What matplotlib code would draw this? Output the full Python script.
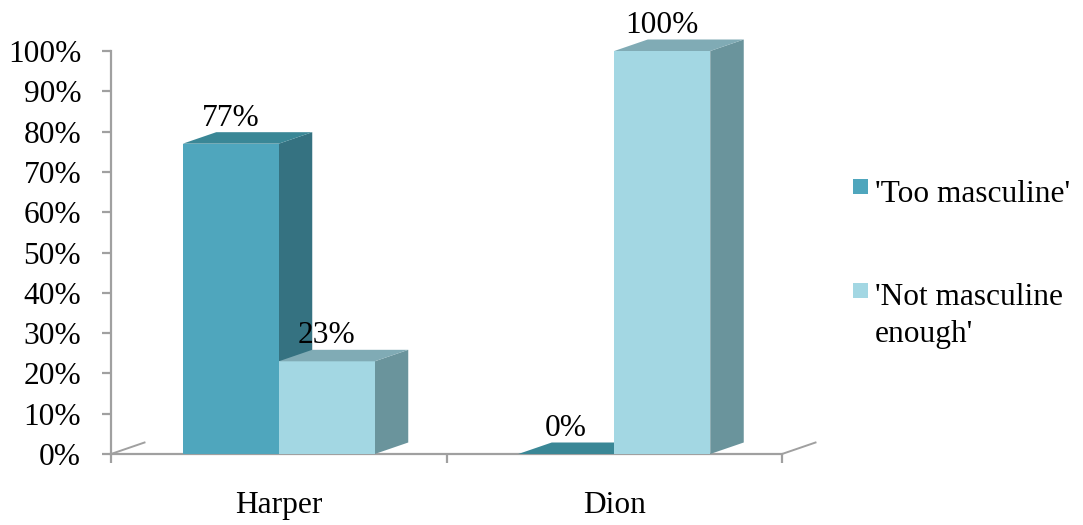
import matplotlib
matplotlib.use('Agg')
import matplotlib.pyplot as plt
import matplotlib.patches as mpatches

categories = ['Harper', 'Dion']
series_names = ["'Too masculine'", "'Not masculine enough'"]
too_masculine = [77, 0]
not_enough = [23, 100]
yticks = list(range(0, 101, 10))

# front / top / side shades for each series
SHADES = [
    {'front': '#4fa6bd', 'top': '#3a8796', 'side': '#357281'},
    {'front': '#a3d7e3', 'top': '#80abb5', 'side': '#6a949c'},
]
AXIS_GRAY = '#a0a0a0'
FONT = 'Liberation Serif'
FS = 22.6

W, H = 1083, 525
fig = plt.figure(figsize=(W / 100, H / 100), dpi=100)

# axes box in pixels: x 111..782, y 51..454
ax = fig.add_axes([111 / W, (H - 454) / H, 671 / W, 403 / H])
ax.set_xlim(0, 2)
ax.set_ylim(0, 100)
for s in ax.spines.values():
    s.set_visible(False)

px_x = 671 / 2.0      # pixels per category unit
px_y = 403 / 100.0    # pixels per percent
bar_w = 96 / px_x
dx = 33.5 / px_x
dy = 11.5 / px_y


def draw_bar(ax, x0, v, shade):
    x1 = x0 + bar_w
    front = mpatches.Rectangle((x0, 0), bar_w, v, facecolor=shade['front'],
                               edgecolor='none', zorder=3, clip_on=False)
    side = mpatches.Polygon([(x1, 0), (x1 + dx, dy), (x1 + dx, v + dy), (x1, v)],
                            closed=True, facecolor=shade['side'], edgecolor='none',
                            zorder=3, clip_on=False)
    top = mpatches.Polygon([(x0, v), (x1, v), (x1 + dx, v + dy), (x0 + dx, v + dy)],
                           closed=True, facecolor=shade['top'], edgecolor='none',
                           zorder=3, clip_on=False)
    for p in (side, front, top):
        ax.add_patch(p)
    ax.annotate(f'{v}%', (x0 + bar_w / 2, v), xytext=(0, 18), textcoords='offset pixels',
                ha='center', va='baseline', fontsize=FS, family=FONT, zorder=5)


# floor / axis lines
ax.plot([0, 2], [0, 0], color=AXIS_GRAY, lw=1.6, zorder=2, clip_on=False)
ax.plot([0, 0], [0, 100], color=AXIS_GRAY, lw=1.6, zorder=2, clip_on=False)
ax.plot([0, dx], [0, dy], color=AXIS_GRAY, lw=1.4, zorder=2, clip_on=False)
ax.plot([2, 2 + dx], [0, dy], color=AXIS_GRAY, lw=1.4, zorder=2, clip_on=False)

for i, cat in enumerate(categories):
    center = i + 0.5
    draw_bar(ax, center - bar_w, too_masculine[i], SHADES[0])
    draw_bar(ax, center, not_enough[i], SHADES[1])
    ax.text(center, -59 / px_y, cat, ha='center', va='baseline',
            fontsize=FS, family=FONT, clip_on=False)

ax.set_xticks([0, 1, 2])
ax.set_xticklabels([])
ax.set_yticks(yticks)
ax.set_yticklabels([f'{t}%' for t in yticks], fontsize=FS, family=FONT)
ax.tick_params(axis='both', color=AXIS_GRAY, width=1.6, length=6.5, direction='out')
ax.tick_params(axis='y', pad=15)

# legend drawn by hand
def fx(x):
    return x / W


def fy(y):
    return 1 - y / H


legend_rows = [(179, [(202, "'Too masculine'")]),
               (283, [(305, "'Not masculine"), (342, "enough'")])]
for k, (sq_top, lines) in enumerate(legend_rows):
    fig.add_artist(mpatches.Rectangle((fx(853), fy(sq_top + 15)), 15 / W, 15 / H,
                                      facecolor=SHADES[k]['front'], edgecolor='none',
                                      transform=fig.transFigure))
    for base, txt in lines:
        fig.text(fx(875), fy(base), txt, ha='left', va='baseline',
                 fontsize=FS, family=FONT)

fig.savefig('out.png', dpi=100)
